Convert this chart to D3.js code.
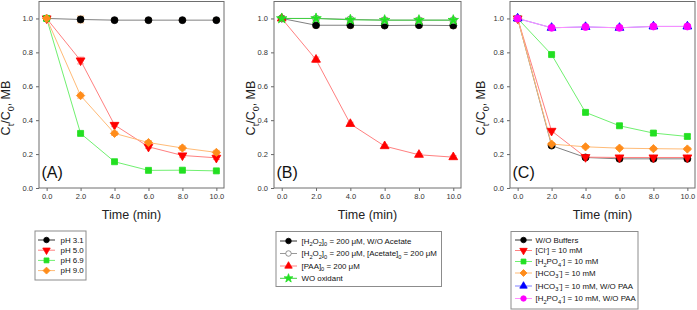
<!DOCTYPE html>
<html>
<head>
<meta charset="utf-8">
<script src="https://cdn.jsdelivr.net/npm/d3@7"></script>
<style>
  body { margin: 0; background: #fff; }
  svg { font-family: "Liberation Sans", Arial, sans-serif; font-weight: normal; }
</style>
</head>
<body>
<div id="chart"></div>
<script>
// Dados (tempo em min, Ct/C0 de MB)
const times = [0, 2, 4, 6, 8, 10];
const xTicks = [0, 2, 4, 6, 8, 10];
const yTicks = [0, 0.2, 0.4, 0.6, 0.8, 1.0];

// Painel A - efeito do pH
const labelsA = ['pH 3.1', 'pH 5.0', 'pH 6.9', 'pH 9.0'];
const pH31 = [1.0, 0.994, 0.99, 0.99, 0.99, 0.99];
const pH50 = [1.0, 0.752, 0.372, 0.243, 0.192, 0.178];
const pH69 = [1.0, 0.322, 0.155, 0.104, 0.105, 0.101];
const pH90 = [1.0, 0.545, 0.322, 0.268, 0.236, 0.21];
const errA = [
  [0, 0.02, 0.006, 0.01, 0.006, 0.006],
  [0, 0.02, 0.01, 0.01, 0.01, 0.01],
  [0, 0.008, 0.006, 0.005, 0.005, 0.005],
  [0, 0.015, 0.012, 0.012, 0.012, 0.012]
];

// Painel B - oxidantes
const labelsB = [
  '[H_{2}O_{2}]_{0} = 200 μM, W/O Acetate',
  '[H_{2}O_{2}]_{0} = 200 μM, [Acetate]_{0} = 200 μM',
  '[PAA]_{0} = 200 μM',
  'WO oxidant'
];
const h2o2NoAc = [1.0, 0.96, 0.96, 0.958, 0.96, 0.958];
const h2o2Ac = [1.0, 1.0, 0.995, 0.99, 0.99, 0.99];
const paa = [1.0, 0.757, 0.378, 0.247, 0.196, 0.182];
const noOxidant = [1.0, 1.0, 0.992, 0.99, 0.99, 0.99];
const errB = [
  [0, 0.015, 0.015, 0.012, 0.012, 0.015],
  [0, 0.01, 0.01, 0.015, 0.015, 0.01],
  [0, 0.015, 0.01, 0.008, 0.008, 0.008],
  [0, 0.005, 0.005, 0.005, 0.005, 0.005]
];

// Painel C - tampões / ânions
const labelsC = [
  'W/O Buffers',
  '[Cl^{-}] = 10 mM',
  '[H_{2}PO_{4}^{-}] = 10 mM',
  '[HCO_{3}^{-}] = 10 mM',
  '[HCO_{3}^{-}] = 10 mM, W/O PAA',
  '[H_{2}PO_{4}^{-}] = 10 mM, W/O PAA'
];
const noBuffer = [1.0, 0.25, 0.18, 0.172, 0.172, 0.172];
const chloride = [1.0, 0.337, 0.182, 0.18, 0.18, 0.18];
const phosphate = [1.0, 0.787, 0.446, 0.367, 0.324, 0.304];
const bicarbonate = [1.0, 0.259, 0.243, 0.235, 0.232, 0.23];
const bicarbNoPaa = [1.0, 0.945, 0.95, 0.945, 0.953, 0.953];
const phosNoPaa = [1.0, 0.945, 0.95, 0.945, 0.953, 0.953];
const errC = [
  [0, 0.012, 0.01, 0.012, 0.012, 0.012],
  [0, 0.01, 0.008, 0.008, 0.008, 0.008],
  [0, 0.008, 0.008, 0.01, 0.012, 0.012],
  [0, 0.008, 0.008, 0.008, 0.008, 0.008],
  [0, 0.008, 0.008, 0.01, 0.01, 0.008],
  [0, 0.008, 0.008, 0.01, 0.01, 0.008]
];

// Estilos das séries
const styleBlack = { marker: d3.symbolCircle, size: 38, fill: '#000', stroke: '#000', line: '#808080', err: '#f0b070' };
const styleOpen = { marker: d3.symbolCircle, size: 36, fill: '#fff', stroke: '#777', line: '#999', err: '#f0a0a0' };
const styleRedDown = { marker: d3.symbolTriangle, rotate: 180, size: 34, fill: '#ff0000', stroke: '#ff0000', line: '#ff8080', err: '#ffa0a0' };
const styleRedUp = { marker: d3.symbolTriangle, size: 34, fill: '#ff0000', stroke: '#ff0000', line: '#ff8080', err: '#ffa0a0' };
const styleGreen = { marker: d3.symbolSquare, size: 36, fill: '#22e022', stroke: '#22e022', line: '#70f070', err: '#f0d070' };
const styleOrange = { marker: d3.symbolSquare, rotate: 45, size: 34, fill: '#ff8c1a', stroke: '#ff8c1a', line: '#ffbb77', err: '#ffc090' };
const styleStar = { marker: d3.symbolStar, size: 34, fill: '#22e022', stroke: '#22e022', line: '#40d040', err: '#90f090' };
const styleBlue = { marker: d3.symbolTriangle, size: 34, fill: '#0000ff', stroke: '#0000ff', line: '#8080ff', err: '#a0a0ff' };
const styleMagenta = { marker: d3.symbolCircle, size: 40, fill: '#ff00ff', stroke: '#ff00ff', line: '#ff90ff', err: '#ffc0a0' };

const panels = [
  {
    tag: '(A)', x0: 39, x1: 224, titleX: 10,
    series: [pH31, pH50, pH69, pH90], errs: errA, labels: labelsA,
    styles: [styleBlack, styleRedDown, styleGreen, styleOrange],
    legend: { x: 35, y: 231, w: 51, h: 49, rows: [240, 250.2, 260.4, 270.6], lx0: 38, lx1: 55, tx: 60.5 }
  },
  {
    tag: '(B)', x0: 274, x1: 461, titleX: 255,
    series: [h2o2NoAc, h2o2Ac, paa, noOxidant], errs: errB, labels: labelsB,
    styles: [styleBlack, styleOpen, styleRedUp, styleStar],
    legend: { x: 276, y: 231.5, w: 165.5, h: 55, rows: [241, 253.5, 266, 278.3], lx0: 280, lx1: 297, tx: 301.5 }
  },
  {
    tag: '(C)', x0: 510, x1: 695, titleX: 485,
    series: [noBuffer, chloride, phosphate, bicarbonate, bicarbNoPaa, phosNoPaa], errs: errC, labels: labelsC,
    styles: [styleBlack, styleRedDown, styleGreen, styleOrange, styleBlue, styleMagenta],
    legend: { x: 511, y: 231.5, w: 127, h: 77.5, rows: [240, 250.5, 261.5, 273, 286, 298.5], lx0: 515, lx1: 532, tx: 535.5 }
  }
];

const W = 697, H = 310;
const yTop = 1.5, yBottom = 188;

const svg = d3.select('#chart').append('svg')
  .attr('width', W)
  .attr('height', H);

// Texto com subscritos/sobrescritos: _{..} e ^{..}
function richText(sel, str, size) {
  const re = /([_^])\{([^}]*)\}|([^_^]+)/g;
  let m, shift = 0;
  while ((m = re.exec(str)) !== null) {
    if (m[3]) {
      sel.append('tspan').attr('dy', -shift).style('font-size', size + 'px').text(m[3]);
      shift = 0;
    } else {
      const target = m[1] === '_' ? size * 0.3 : -size * 0.35;
      sel.append('tspan').attr('dy', target - shift).style('font-size', (size * 0.72) + 'px').text(m[2]);
      shift = target;
    }
  }
  if (shift !== 0) sel.append('tspan').attr('dy', -shift).text('\u200b');
}

function marker(g, st, x, y, size) {
  g.append('path')
    .attr('d', d3.symbol().type(st.marker).size(size)())
    .attr('transform', `translate(${x},${y})` + (st.rotate ? ` rotate(${st.rotate})` : ''))
    .attr('fill', st.fill)
    .attr('stroke', st.stroke)
    .attr('stroke-width', 0.8);
}

panels.forEach(p => {
  const x = d3.scaleLinear().domain([-0.45, 10.45]).range([p.x0, p.x1]);
  const y = d3.scaleLinear().domain([0, 1.1]).range([yBottom, yTop]);
  const g = svg.append('g');

  // Eixos
  const xAxis = g.append('g')
    .attr('transform', `translate(0,${yBottom})`)
    .call(d3.axisBottom(x).tickValues(xTicks).tickSize(3).tickSizeOuter(0).tickFormat(d3.format('.1f')));
  const yAxis = g.append('g')
    .attr('transform', `translate(${p.x0},0)`)
    .call(d3.axisLeft(y).tickValues(yTicks).tickSize(3).tickSizeOuter(0).tickFormat(d3.format('.1f')));
  [xAxis, yAxis].forEach(a => {
    a.select('.domain').remove();
    a.selectAll('line').attr('stroke', '#666');
    a.selectAll('text').attr('fill', '#333').style('font-size', '7.5px').attr('font-family', null);
  });

  // Moldura
  g.append('rect')
    .attr('x', p.x0).attr('y', yTop)
    .attr('width', p.x1 - p.x0).attr('height', yBottom - yTop)
    .attr('fill', 'none').attr('stroke', '#6e6e6e').attr('stroke-width', 1);

  // Linhas
  const line = d3.line().x((d, i) => x(times[i])).y(d => y(d));
  p.series.forEach((s, k) => {
    g.append('path')
      .datum(s)
      .attr('d', line)
      .attr('fill', 'none')
      .attr('stroke', p.styles[k].line)
      .attr('stroke-width', 1);
  });

  // Barras de erro
  p.series.forEach((s, k) => {
    s.forEach((v, i) => {
      const e = p.errs[k][i];
      if (!e) return;
      const cx = x(times[i]);
      const eg = g.append('g').attr('stroke', p.styles[k].err).attr('stroke-width', 1);
      eg.append('line').attr('x1', cx).attr('x2', cx).attr('y1', y(v - e)).attr('y2', y(v + e));
      eg.append('line').attr('x1', cx - 3.5).attr('x2', cx + 3.5).attr('y1', y(v - e)).attr('y2', y(v - e));
      eg.append('line').attr('x1', cx - 3.5).attr('x2', cx + 3.5).attr('y1', y(v + e)).attr('y2', y(v + e));
    });
  });

  // Marcadores
  p.series.forEach((s, k) => {
    s.forEach((v, i) => marker(g, p.styles[k], x(times[i]), y(v), p.styles[k].size));
  });

  // Rótulo do painel
  g.append('text')
    .attr('x', p.x0 + 2.5)
    .attr('y', 177.5)
    .style('font-size', '16px')
    .attr('fill', '#111')
    .text(p.tag);

  // Título do eixo X
  g.append('text')
    .attr('x', (p.x0 + p.x1) / 2)
    .attr('y', 219)
    .attr('text-anchor', 'middle')
    .style('font-size', '12.5px')
    .attr('fill', '#222')
    .text('Time (min)');

  // Título do eixo Y
  const yt = g.append('text')
    .attr('transform', `translate(${p.titleX},108) rotate(-90)`)
    .attr('text-anchor', 'middle')
    .attr('fill', '#222');
  richText(yt, 'C_{t}/C_{0}, MB', 12.5);

  // Legenda
  const L = p.legend;
  const lg = svg.append('g');
  lg.append('rect')
    .attr('x', L.x).attr('y', L.y).attr('width', L.w).attr('height', L.h)
    .attr('fill', '#fff').attr('stroke', '#8c8c8c').attr('stroke-width', 1);
  p.labels.forEach((lab, k) => {
    const ry = L.rows[k];
    const st = p.styles[k];
    lg.append('line')
      .attr('x1', L.lx0).attr('x2', L.lx1).attr('y1', ry).attr('y2', ry)
      .attr('stroke', k === 0 ? '#333' : st.line).attr('stroke-width', 1);
    marker(lg, st, (L.lx0 + L.lx1) / 2, ry, 24);
    const t = lg.append('text')
      .attr('x', L.tx).attr('y', ry + 2.8)
      .attr('fill', '#111');
    richText(t, lab, 7.9);
  });
});
</script>
</body>
</html>
